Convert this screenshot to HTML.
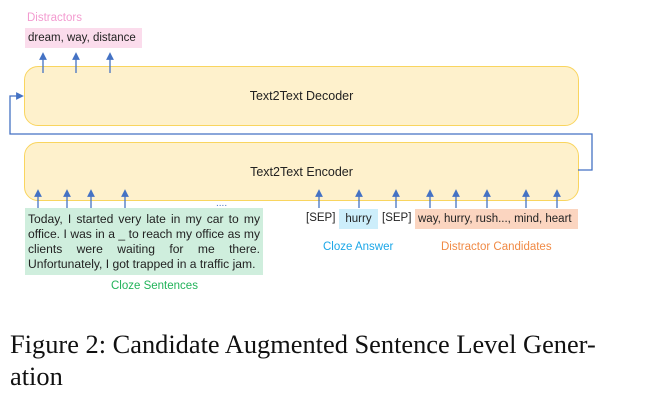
<!DOCTYPE html>
<html><head><style>
body{margin:0;width:661px;height:419px;background:#fff;position:relative;overflow:hidden;font-family:"Liberation Sans",sans-serif}
.a{position:absolute}
.box{position:absolute;background:#fef1cc;border:1.5px solid #f9d55f;border-radius:14px;box-sizing:border-box;display:flex;align-items:center;justify-content:center;font-size:12.5px;color:#222}
.t{font-size:11.5px;color:#222;position:absolute;white-space:nowrap}
</style></head><body>
<div class="a" style="left:27px;top:12px;font-size:11.5px;color:#f39bd0">Distractors</div>
<div class="a" style="left:25px;top:28px;width:117px;height:20px;background:#fbdcec;font-size:11.5px;color:#222;line-height:20px;padding-left:3px;box-sizing:border-box">dream, way, distance</div>
<div class="box" style="left:24px;top:66px;width:555px;height:60px">Text2Text Decoder</div>
<div class="box" style="left:24px;top:142px;width:555px;height:59px">Text2Text Encoder</div>
<svg class="a" style="left:0;top:0" width="661" height="419">
<defs><marker id="m" markerWidth="6" markerHeight="6" refX="3" refY="3" orient="auto"><path d="M0,0L6,3L0,6Z" fill="#4472c4"/></marker></defs>
<g stroke="#4472c4" stroke-width="1.3" fill="none">
<path d="M578,170H592V134H10V96H20" marker-end="url(#m)"/>
<path d="M43,73V56" marker-end="url(#m)"/><path d="M76,73V56" marker-end="url(#m)"/><path d="M110,73V56" marker-end="url(#m)"/>
<path d="M38,208V193" marker-end="url(#m)"/><path d="M67,208V193" marker-end="url(#m)"/><path d="M91,208V193" marker-end="url(#m)"/><path d="M125,208V193" marker-end="url(#m)"/>
<path d="M319,208V193" marker-end="url(#m)"/><path d="M359,208V193" marker-end="url(#m)"/><path d="M396,208V193" marker-end="url(#m)"/>
<path d="M430,208V193" marker-end="url(#m)"/><path d="M456,208V193" marker-end="url(#m)"/><path d="M487,208V193" marker-end="url(#m)"/><path d="M526,208V193" marker-end="url(#m)"/><path d="M557,208V193" marker-end="url(#m)"/>
</g>
<text x="216" y="206" font-size="10" fill="#4472c4">....</text>
</svg>
<div class="a" style="left:25px;top:208px;width:238px;height:67px;background:#cfeedd;font-size:12.1px;color:#222;line-height:15px;padding:4px 3px;box-sizing:border-box;text-align:justify;text-align-last:left">Today, I started very late in my car to my office. I was in a _ to reach my office as my clients were waiting for me there. Unfortunately, I got trapped in a traffic jam.</div>
<div class="a" style="left:111px;top:280px;font-size:11.5px;color:#22b35a">Cloze Sentences</div>
<div class="t" style="left:306px;top:212px">[SEP]</div>
<div class="t" style="left:339px;top:209px;width:39px;height:20px;background:#cdeefb;line-height:20px;text-align:center">hurry</div>
<div class="t" style="left:382px;top:212px">[SEP]</div>
<div class="t" style="left:415px;top:209px;width:163px;height:20px;background:#fbd5c0;line-height:20px;padding-left:3px;box-sizing:border-box">way, hurry, rush..., mind, heart</div>
<div class="a" style="left:323px;top:241px;font-size:11.5px;color:#1ca7e8">Cloze Answer</div>
<div class="a" style="left:441px;top:241px;font-size:11.5px;color:#f08a45">Distractor Candidates</div>
<div class="a" style="left:10px;top:328px;width:645px;font-family:'Liberation Serif',serif;font-size:26.4px;line-height:32px;color:#111;white-space:nowrap">Figure 2: Candidate Augmented Sentence Level Gener-<br>ation</div>
</body></html>
